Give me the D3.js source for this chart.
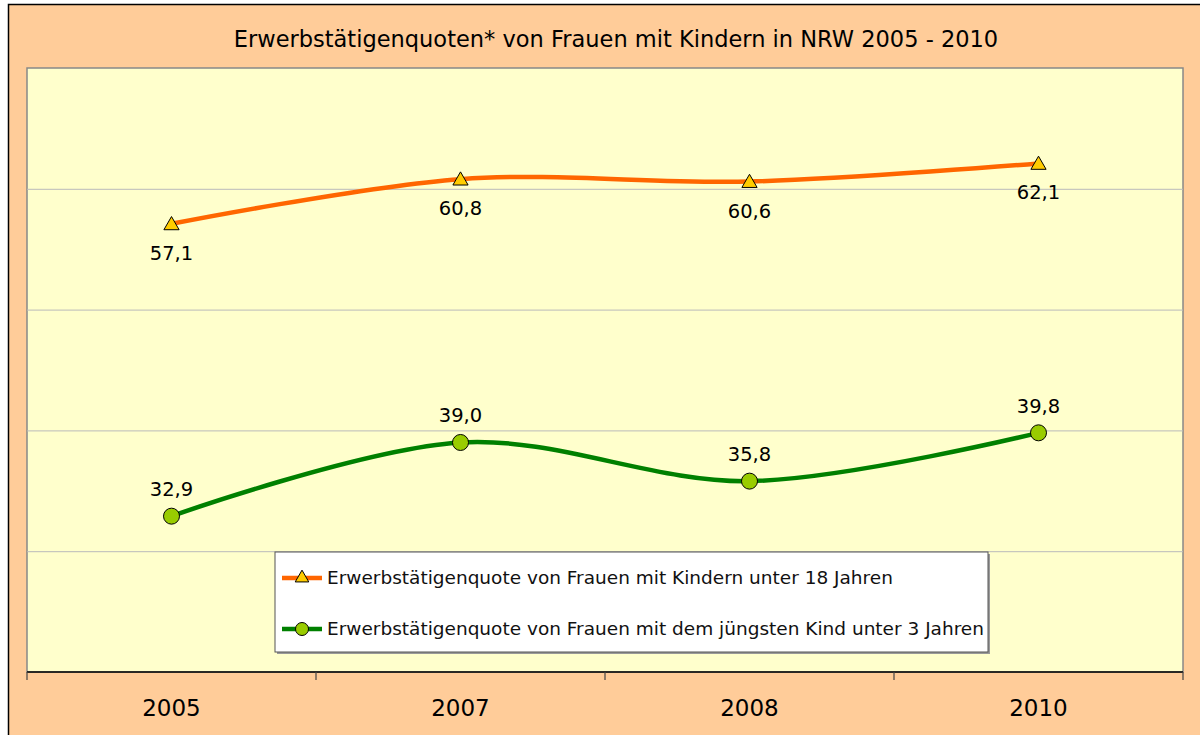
<!DOCTYPE html>
<html><head><meta charset="utf-8">
<script src="https://cdn.jsdelivr.net/npm/d3@7"></script>
<style>body{margin:0;background:#fff}svg{display:block}</style>
</head><body>
<svg id="c" width="1200" height="735"></svg>
<script>
const years = ["2005","2007","2008","2010"];
const seriesKinder18 = [57.1, 60.8, 60.6, 62.1];
const seriesKind3 = [32.9, 39.0, 35.8, 39.8];
const legendLabels = ["Erwerbstätigenquote von Frauen mit Kindern unter 18 Jahren",
  "Erwerbstätigenquote von Frauen mit dem jüngsten Kind unter 3 Jahren"];
const yTicks = [20,30,40,50,60,70];
const title = "Erwerbstätigenquoten* von Frauen mit Kindern in NRW 2005 - 2010";

const svg = d3.select("#c");
const font = "'DejaVu Sans', Verdana, sans-serif";
const L=27, R=1183, T=68, B=672;

svg.append("rect").attr("x",8.5).attr("y",4.5).attr("width",1300).attr("height",900)
  .attr("fill","#FFCC99").attr("stroke","#000").attr("stroke-width",1.5);

const x = d3.scaleBand().domain(years).range([L,R]);
const y = d3.scaleLinear().domain([20,70]).range([B,T]);

svg.append("rect").attr("x",L).attr("y",T).attr("width",R-L).attr("height",B-T)
  .attr("fill","#FFFFCC").attr("stroke","#888").attr("stroke-width",1.5);

svg.append("g").selectAll("line").data(yTicks.filter(d=>d>20&&d<70)).join("line")
  .attr("x1",L).attr("x2",R).attr("y1",d=>y(d)+0.5).attr("y2",d=>y(d)+0.5)
  .attr("stroke","#BBBBBB").attr("stroke-width",1);

// x axis
const xa = svg.append("g").attr("transform",`translate(0,${B})`);
xa.append("line").attr("x1",L).attr("x2",R).attr("stroke","#000").attr("stroke-width",1.5);
const bounds = years.map(d=>x(d)).concat([R]);
xa.selectAll("line.t").data(bounds).join("line").attr("class","t")
  .attr("x1",d=>d).attr("x2",d=>d).attr("y1",0).attr("y2",8).attr("stroke","#444").attr("stroke-width",1.2);
xa.selectAll("text").data(years).join("text")
  .attr("x",d=>x(d)+x.bandwidth()/2).attr("y",44).attr("text-anchor","middle")
  .attr("font-family",font).attr("font-size",23).attr("fill","#000").text(d=>d);

svg.append("text").attr("x",616).attr("y",47).attr("text-anchor","middle")
  .attr("font-family",font).attr("font-size",22.5).attr("fill","#000").text(title);

const cx = d=>x(d)+x.bandwidth()/2;
const line = d3.line().x((d,i)=>cx(years[i])).y(d=>y(d)).curve(d3.curveCatmullRom.alpha(0));

const tri = d3.symbol().type(d3.symbolTriangle).size(100);

function drawSeries(vals,color,kind,labelDy){
  svg.append("path").attr("d",line(vals)).attr("fill","none").attr("stroke",color).attr("stroke-width",4.5);
  const g = svg.append("g");
  vals.forEach((v,i)=>{
    if(kind==="tri"){
      g.append("path").attr("d",tri).attr("transform",`translate(${cx(years[i])},${y(v)+1.5})`)
        .attr("fill","#FFCC00").attr("stroke","#000").attr("stroke-width",1);
    } else {
      g.append("circle").attr("cx",cx(years[i])).attr("cy",y(v)).attr("r",8)
        .attr("fill","#99CC00").attr("stroke","#000").attr("stroke-width",1);
    }
    g.append("text").attr("x",cx(years[i])).attr("y",y(v)+labelDy).attr("text-anchor","middle")
      .attr("font-family",font).attr("font-size",19.5).attr("fill","#000")
      .text(v.toFixed(1).replace(".",","));
  });
}
drawSeries(seriesKinder18,"#FF6600","tri",36);
drawSeries(seriesKind3,"#008000","circ",-20);

// legend
const lg = svg.append("g");
lg.append("rect").attr("x",277).attr("y",554).attr("width",713).attr("height",100).attr("fill","#999");
lg.append("rect").attr("x",275).attr("y",552).attr("width",713).attr("height",100)
  .attr("fill","#fff").attr("stroke","#555").attr("stroke-width",1);
const legRows=[{c:"#FF6600",k:"tri",y:578},{c:"#008000",k:"circ",y:629}];
legRows.forEach((r,i)=>{
  lg.append("line").attr("x1",282).attr("x2",322).attr("y1",r.y).attr("y2",r.y).attr("stroke",r.c).attr("stroke-width",4.5);
  if(r.k==="tri") lg.append("path").attr("d",d3.symbol().type(d3.symbolTriangle).size(80)).attr("transform",`translate(302,${r.y})`).attr("fill","#FFCC00").attr("stroke","#000");
  else lg.append("circle").attr("cx",302).attr("cy",r.y).attr("r",6.5).attr("fill","#99CC00").attr("stroke","#000");
  lg.append("text").attr("x",327).attr("y",r.y+6).attr("font-family",font).attr("font-size",18.5).attr("fill","#111").text(legendLabels[i]);
});
</script>
</body></html>
